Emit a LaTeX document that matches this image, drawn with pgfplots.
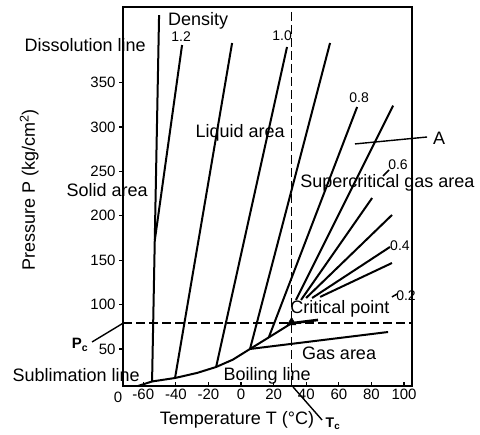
\documentclass[border=0pt]{standalone}
\usepackage{pgfplots}
\pgfplotsset{compat=1.18}
\usepackage{fontspec}
\setmainfont{Liberation Sans}

\begin{document}
\begin{tikzpicture}[
  lbl/.style={font=\fontsize{18}{20}\selectfont, inner sep=0pt},
  num/.style={font=\fontsize{14}{16}\selectfont, inner sep=0pt},
]
\begin{axis}[
  scale only axis, width=289pt, height=379pt,
  xmin=-72.4, xmax=104.9, ymin=8.3, ymax=435.1,
  clip=false,
  axis line style={line width=1.5pt},
  xtick={-60,-40,...,100}, xticklabels={-60,-40,-20,0,20,40,60,80,100},
  ytick={50,100,...,350}, yticklabels={50,100,150,200,250,300,350},
  xtick pos=lower, ytick pos=left,
  xtick align=inside, ytick align=outside,
  major tick length=4pt,
  tick style={line width=1.2pt, black},
  tick label style={font=\fontsize{15}{17}\selectfont},
]
% critical lines (Tc, Pc)
\addplot[no marks, line width=1.6pt, dash pattern=on 9pt off 4pt] coordinates {(31,429.5) (31,8.3)};
\addplot[no marks, line width=1.6pt, dash pattern=on 9pt off 4pt] coordinates {(-72.4,79) (104.9,79)};

% phase boundaries
\addplot[no marks, line width=2pt] coordinates {(-63.2,8.3) (-54.6,13.4)};
\addplot[no marks, line width=2pt] coordinates {(-54.6,13.4) (-50.3,426)};
\addplot[no marks, line width=2pt] coordinates {
  (-54.6,13.4) (-40.5,17.3) (-27,23) (-15.3,29.7) (-5,38) (5.5,50) (17,63) (31,79)};
\addplot[no marks, line width=2pt] coordinates {(5.5,50) (90.2,69.1)};
\addplot[no marks, line width=2.6pt] coordinates {(31,79) (47.2,82.7)};
\addplot[only marks, mark=triangle*, mark size=5pt] coordinates {(31,80)};

% density isolines
\addplot[no marks, line width=2pt] coordinates {(-52.9,172.7) (-36.2,392.3)}; % 1.2
\addplot[no marks, line width=2pt] coordinates {(-40.5,17.3) (-5.5,394.6)};   % 1.1
\addplot[no marks, line width=2pt] coordinates {(-15.3,29.7) (28.2,390.1)};   % 1.0
\addplot[no marks, line width=2pt] coordinates {(5.5,50) (54.6,394.6)};       % 0.9
\addplot[no marks, line width=2pt] coordinates {(17,63) (71.2,322.5)};        % 0.8
\addplot[no marks, line width=2pt] coordinates {(33.7,105.2) (93.3,324.1)};   % 0.7
\addplot[no marks, line width=2pt] coordinates {(36.8,105.2) (80.4,220)};     % 0.6
\addplot[no marks, line width=1.5pt] coordinates {(87.1,244.8) (90.8,251.6)};
\addplot[no marks, line width=2pt] coordinates {(39.9,107.4) (92.6,200.9)};   % 0.5
\addplot[no marks, line width=2pt] coordinates {(43.6,107.4) (91.4,164.9)};   % 0.4
\addplot[no marks, line width=2pt] coordinates {(48.5,108.6) (92.6,146.8)};   % 0.3
\addplot[no marks, line width=1.5pt] coordinates {(92.6,108.6) (95.7,111.9)};

% leaders
\addplot[no marks, line width=1.4pt] coordinates {(69.9,280.9) (114.1,288.7)};
\addplot[no marks, line width=1.4pt] coordinates {(-91.4,57.9) (-72.4,79)};
\addplot[no marks, line width=1.4pt] coordinates {(31.9,7.2) (49.7,-30)};

% texts
\node[lbl] at (axis cs:-26.4,419.4) {Density};
\node[lbl] at (axis cs:-95.7,392.3) {Dissolution line};
\node[num] at (axis cs:-36.8,401.4) {1.2};
\node[num] at (axis cs:25.2,402.5) {1.0};
\node[num] at (axis cs:72.4,332.7) {0.8};
\node[num] at (axis cs:96.3,257.2) {0.6};
\node[num] at (axis cs:97.5,166) {0.4};
\node[num] at (axis cs:101.2,109.7) {0.2};
\node[lbl] at (axis cs:121.5,287.6) {A};
\node[lbl] at (axis cs:-0.6,293.2) {Liquid area};
\node[lbl] at (axis cs:-82.2,229) {Solid area};
\node[lbl, anchor=west] at (axis cs:36.2,236.9) {Supercritical gas area};
\node[lbl, anchor=west] at (axis cs:30.1,95) {Critical point};
\node[lbl] at (axis cs:60.1,45.5) {Gas area};
\node[lbl] at (axis cs:16,19.6) {Boiling line};
\node[lbl] at (axis cs:-101.2,20.7) {Sublimation line};
\node[font=\bfseries\fontsize{15}{17}\selectfont, inner sep=0pt] at (axis cs:-98.8,54.5) {P\textsubscript{c}};
\node[font=\bfseries\fontsize{14}{16}\selectfont, inner sep=0pt] at (axis cs:56.4,-34) {T\textsubscript{c}};
\node[font=\fontsize{15}{17}\selectfont, inner sep=0pt] at (axis cs:-75.5,-4) {0};
\node[lbl] at (axis cs:-2.5,-30) {Temperature T (°C)};
\node[lbl, rotate=90] at (axis cs:-130,229) {Pressure P (kg/cm\textsuperscript{2})};

\path (axis cs:-147.9,-46.8) rectangle (axis cs:146.6,443);
\end{axis}
\end{tikzpicture}
\end{document}
